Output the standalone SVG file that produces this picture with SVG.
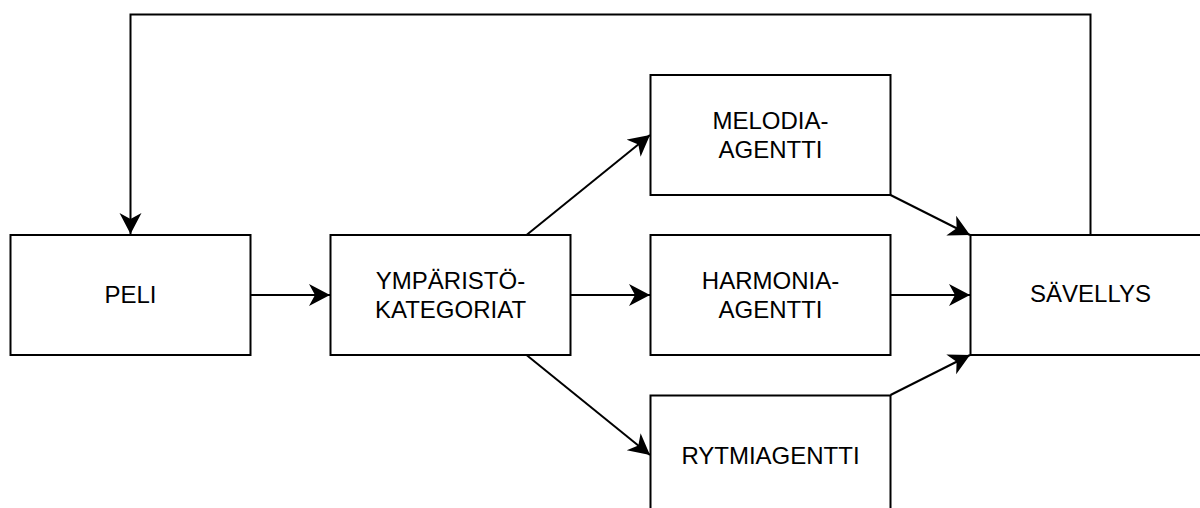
<svg xmlns="http://www.w3.org/2000/svg" width="1200" height="508" viewBox="0 0 1200 508">
<style>
.box{fill:#fff;stroke:#000;stroke-width:2}
.lbl{font-family:"Liberation Sans",Arial,sans-serif;font-size:24px;fill:#000;text-anchor:middle}
.edge{fill:none;stroke:#000;stroke-width:2;marker-end:url(#arr)}
</style>
<defs>
<marker id="arr" markerUnits="userSpaceOnUse" markerWidth="24" markerHeight="24" refX="21" refY="11" orient="auto" viewBox="0 0 24 24">
<path d="M0,0 L21,11 L0,22 L6,11 Z" fill="#000"/>
</marker>
</defs>
<rect width="1200" height="508" fill="#fff"/>
<g id="connectors">
<path class="edge" d="M1090.5,235 V14.5 H130.5 V234"/>
<path class="edge" d="M250.5,295 H330"/>
<path class="edge" d="M570.5,295 H650"/>
<path class="edge" d="M890.5,295 H970"/>
<path class="edge" d="M526.5,235 L650,135"/>
<path class="edge" d="M526.5,355 L650,455"/>
<path class="edge" d="M890.5,195 L970,235"/>
<path class="edge" d="M890.5,395 L970,355"/>
</g>
<g id="peli">
<rect class="box" x="10.5" y="235" width="240" height="120"/>
<text class="lbl" x="130.5" y="303">PELI</text>
</g>
<g id="ymparisto">
<rect class="box" x="330.5" y="235" width="240" height="120"/>
<text class="lbl" x="450.5" y="288.5">YMPÄRISTÖ-</text>
<text class="lbl" x="450.5" y="318">KATEGORIAT</text>
</g>
<g id="melodia">
<rect class="box" x="650.5" y="75" width="240" height="120"/>
<text class="lbl" x="770.5" y="128.5">MELODIA-</text>
<text class="lbl" x="770.5" y="158">AGENTTI</text>
</g>
<g id="harmonia">
<rect class="box" x="650.5" y="235" width="240" height="120"/>
<text class="lbl" x="770.5" y="288.5">HARMONIA-</text>
<text class="lbl" x="770.5" y="318">AGENTTI</text>
</g>
<g id="rytmi">
<rect class="box" x="650.5" y="395.5" width="240" height="120"/>
<text class="lbl" x="770.5" y="463.5">RYTMIAGENTTI</text>
</g>
<g id="savellys">
<rect class="box" x="970.5" y="235" width="240" height="120"/>
<text class="lbl" x="1090.5" y="302">SÄVELLYS</text>
</g>
</svg>
